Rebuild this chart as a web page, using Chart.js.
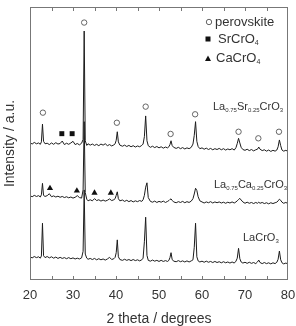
<!DOCTYPE html>
<html>
<head>
<meta charset="utf-8">
<script src="https://cdn.jsdelivr.net/npm/chart.js@4.4.0/dist/chart.umd.min.js"></script>
<style>
  html, body { margin: 0; padding: 0; background: #fff; }
  #wrap { width: 296px; height: 326px; }
</style>
</head>
<body>
<div id="wrap"><canvas id="xrd"></canvas></div>
<script>
// 2 theta grid shared by the three patterns
const twoTheta = [
  20, 20.5, 21, 21.5, 22, 22.4, 22.65, 22.9, 23.15, 23.5,
  24, 24.5, 25, 25.5, 26, 26.5, 27, 27.5, 28, 28.5,
  29, 29.5, 30, 30.5, 31, 31.5, 32, 32.35, 32.6, 32.85,
  33.2, 33.5, 34, 34.5, 35, 35.5, 36, 36.5, 37, 37.5,
  38, 38.5, 39, 39.5, 39.8, 40.05, 40.3, 40.55, 40.9, 41.5,
  42, 42.5, 43, 43.5, 44, 44.5, 45, 45.5, 46, 46.3,
  46.6, 46.9, 47.2, 47.5, 48, 48.5, 49, 49.5, 50, 50.5,
  51, 51.5, 52, 52.3, 52.55, 52.8, 53.05, 53.4, 54, 54.5,
  55, 55.5, 56, 56.5, 57, 57.5, 57.9, 58.2, 58.5, 58.8,
  59.1, 59.5, 60, 60.5, 61, 61.5, 62, 62.5, 63, 63.5,
  64, 64.5, 65, 65.5, 66, 66.5, 67, 67.5, 67.9, 68.2,
  68.5, 68.8, 69.1, 69.5, 70, 70.5, 71, 71.5, 72, 72.5,
  72.9, 73.2, 73.5, 74, 74.5, 75, 75.5, 76, 76.5, 77,
  77.4, 77.7, 78.0, 78.3, 78.6, 79, 79.5, 80
];

// La0.75Sr0.25CrO3 (offset trace, top)
const lsc = [
  50.3, 49.8, 50.4, 49.9, 50.2, 49.7, 50.6, 57.1, 50.8, 49.9,
  50.1, 49.6, 50.2, 49.7, 50.3, 49.8, 50.0, 50.9, 49.6, 50.1,
  49.7, 50.2, 50.8, 49.6, 50.0, 49.5, 50.1, 51.5, 91.2, 51.0,
  49.3, 49.9, 49.4, 49.8, 49.3, 49.7, 49.2, 49.8, 49.4, 49.9,
  49.2, 49.6, 49.1, 49.5, 49.9, 51.2, 54.3, 50.6, 49.4, 49.0,
  49.4, 48.9, 49.3, 48.8, 49.2, 48.7, 49.1, 48.8, 49.3, 49.8,
  52.5, 60.1, 51.0, 49.2, 48.6, 49.0, 48.5, 48.9, 48.4, 48.8,
  48.3, 48.7, 48.4, 48.8, 49.6, 51.0, 49.3, 48.6, 48.2, 48.6,
  48.1, 48.5, 48.0, 48.4, 48.1, 48.6, 49.8, 53.0, 58.0, 50.8,
  48.9, 48.1, 48.4, 47.9, 48.3, 47.8, 48.2, 47.7, 48.1, 47.8,
  48.2, 47.7, 48.1, 47.6, 48.0, 47.7, 48.1, 47.6, 48.5, 50.0,
  51.9, 50.2, 48.6, 47.8, 47.5, 47.9, 47.4, 47.8, 47.3, 47.7,
  47.9, 48.7, 47.9, 47.4, 47.7, 47.2, 47.6, 47.1, 47.5, 47.2,
  47.6, 48.8, 51.3, 49.2, 47.6, 47.2, 47.5, 47.1
];

// La0.75Ca0.25CrO3 (middle)
const lcc = [
  30.9, 30.5, 31.0, 30.6, 30.9, 30.4, 31.2, 35.4, 31.0, 30.6,
  30.9, 31.6, 30.5, 30.8, 30.4, 30.7, 30.3, 30.6, 30.2, 30.5,
  30.1, 30.4, 30.0, 30.3, 30.9, 30.2, 30.0, 33.0, 58.0, 32.0,
  29.6, 29.0, 29.4, 29.0, 29.8, 29.1, 29.4, 28.9, 29.3, 28.9,
  29.2, 29.7, 29.1, 29.4, 29.8, 31.0, 32.3, 29.8, 29.0, 29.3,
  28.8, 29.2, 28.7, 29.1, 28.6, 29.0, 28.7, 29.1, 28.8, 29.4,
  31.0, 34.0, 35.6, 30.2, 28.8, 28.5, 28.9, 28.4, 28.8, 28.5,
  28.9, 28.4, 28.8, 29.1, 29.5, 29.7, 29.2, 28.6, 28.3, 28.7,
  28.4, 28.8, 28.3, 28.7, 28.4, 28.9, 29.8, 31.5, 33.6, 32.8,
  30.5, 29.0, 28.6, 28.2, 28.6, 28.3, 28.7, 28.2, 28.6, 28.3,
  28.6, 28.2, 28.5, 28.1, 28.5, 28.2, 28.6, 28.2, 28.6, 29.0,
  29.5, 29.9, 29.3, 28.6, 28.1, 28.5, 28.1, 28.4, 28.0, 28.4,
  28.1, 28.5, 28.1, 28.4, 28.0, 28.3, 27.9, 28.3, 28.0, 28.3,
  28.5, 29.0, 29.6, 29.2, 28.5, 28.1, 28.4, 28.0
];

// LaCrO3 (bottom)
const lc = [
  8.5, 8.1, 8.6, 8.2, 8.5, 8.0, 8.8, 20.8, 8.9, 8.2,
  8.6, 8.1, 8.5, 8.0, 8.4, 7.9, 8.3, 7.9, 8.2, 7.8,
  8.2, 7.8, 8.1, 7.7, 8.0, 7.7, 8.1, 10.5, 33.0, 9.5,
  8.0, 7.6, 7.9, 7.5, 7.9, 7.4, 7.8, 7.4, 7.7, 7.3,
  7.7, 8.3, 7.5, 7.8, 8.3, 10.0, 14.7, 8.5, 7.5, 7.2,
  7.6, 7.2, 7.5, 7.1, 7.5, 7.1, 7.4, 7.0, 7.4, 8.0,
  14.0, 23.0, 9.0, 7.2, 6.9, 7.3, 6.9, 7.2, 6.8, 7.2,
  6.8, 7.1, 6.8, 7.2, 8.2, 10.0, 7.6, 6.9, 6.7, 7.1,
  6.7, 7.0, 6.6, 7.0, 6.6, 7.0, 7.4, 12.0, 20.8, 8.5,
  7.0, 6.6, 6.9, 6.5, 6.9, 6.5, 6.8, 6.4, 6.8, 6.4,
  6.7, 6.3, 6.7, 6.3, 6.6, 6.2, 6.6, 6.2, 6.9, 8.0,
  11.6, 7.8, 6.6, 6.2, 6.5, 6.1, 6.5, 6.1, 6.4, 6.0,
  6.6, 7.3, 6.4, 6.0, 6.4, 6.0, 6.3, 5.9, 6.3, 6.0,
  6.5, 7.6, 10.6, 7.4, 6.3, 5.9, 6.2, 5.9
];

// phase markers
const perovX = [23.0, 32.6, 40.2, 46.9, 52.7, 58.4, 68.5, 73.1, 77.9];
const perovY = [61.3, 94.3, 57.6, 63.5, 53.5, 60.7, 54.3, 51.9, 54.3];
const srX = [27.4, 29.8];
const srY = [53.6, 53.6];
const caX = [24.65, 30.9, 35.0, 38.8];
const caY = [33.6, 32.7, 31.9, 31.9];

const xTicks = [20, 30, 40, 50, 60, 70, 80];

const pts = (xs, ys) => xs.map((x, i) => ({ x: x, y: ys[i] }));

const traceStyle = {
  showLine: true, pointRadius: 0, borderWidth: 1,
  borderColor: '#1c1c1c', tension: 0, fill: false
};

// subscript text helper: parts = [[text, isSub], ...]
function drawChem(ctx, parts, x, y, size) {
  let cx = x;
  parts.forEach(p => {
    const fs = p[1] ? Math.round(size * 0.55) : size;
    ctx.font = fs + 'px "Liberation Sans", Arial, sans-serif';
    ctx.textBaseline = 'middle';
    ctx.textAlign = 'left';
    ctx.fillText(p[0], cx, p[1] ? y + size * 0.32 : y);
    cx += ctx.measureText(p[0]).width;
  });
}

const decor = {
  id: 'decor',
  afterDraw(chart) {
    const ctx = chart.ctx;
    const a = chart.chartArea;
    const xs = chart.scales.x;
    ctx.save();
    // frame
    ctx.strokeStyle = '#777';
    ctx.lineWidth = 1;
    ctx.strokeRect(a.left + 0.5, a.top + 0.5, a.right - a.left - 1, a.bottom - a.top - 1);
    // inward ticks every 5 degrees, top and bottom
    ctx.beginPath();
    for (let v = 25; v < 80; v += 5) {
      const px = Math.round(xs.getPixelForValue(v)) + 0.5;
      ctx.moveTo(px, a.bottom);
      ctx.lineTo(px, a.bottom - 4);
      ctx.moveTo(px, a.top);
      ctx.lineTo(px, a.top + 4);
    }
    ctx.stroke();

    // legend
    ctx.strokeStyle = '#555';
    ctx.lineWidth = 0.9;
    ctx.beginPath();
    ctx.arc(209, 22, 2.7, 0, Math.PI * 2);
    ctx.stroke();
    ctx.fillStyle = '#111';
    ctx.fillRect(205.5, 36.5, 5, 5);
    ctx.beginPath();
    ctx.moveTo(208, 55.5);
    ctx.lineTo(211, 61);
    ctx.lineTo(205, 61);
    ctx.closePath();
    ctx.fill();
    ctx.fillStyle = '#333';
    drawChem(ctx, [['perovskite', 0]], 215, 22, 13);
    drawChem(ctx, [['SrCrO', 0], ['4', 1]], 218, 39, 13);
    drawChem(ctx, [['CaCrO', 0], ['4', 1]], 216, 58, 13);

    // sample labels
    drawChem(ctx, [['La', 0], ['0.75', 1], ['Sr', 0], ['0.25', 1], ['CrO', 0], ['3', 1]], 213, 107, 11);
    drawChem(ctx, [['La', 0], ['0.75', 1], ['Ca', 0], ['0.25', 1], ['CrO', 0], ['3', 1]], 214, 185, 11);
    drawChem(ctx, [['LaCrO', 0], ['3', 1]], 243, 238, 11);
    ctx.restore();
  }
};

new Chart(document.getElementById('xrd'), {
  type: 'scatter',
  data: {
    datasets: [
      Object.assign({ label: 'La0.75Sr0.25CrO3', data: pts(twoTheta, lsc) }, traceStyle),
      Object.assign({ label: 'La0.75Ca0.25CrO3', data: pts(twoTheta, lcc) }, traceStyle),
      Object.assign({ label: 'LaCrO3', data: pts(twoTheta, lc) }, traceStyle),
      {
        label: 'perovskite', data: pts(perovX, perovY),
        pointStyle: 'circle', pointRadius: 2.7, borderWidth: 0.9,
        borderColor: '#555', backgroundColor: '#fff'
      },
      {
        label: 'SrCrO4', data: pts(srX, srY),
        pointStyle: 'rect', pointRadius: 3.5, borderWidth: 0,
        backgroundColor: '#111'
      },
      {
        label: 'CaCrO4', data: pts(caX, caY),
        pointStyle: 'triangle', pointRadius: 3.6, borderWidth: 0,
        backgroundColor: '#111'
      }
    ]
  },
  options: {
    responsive: true,
    maintainAspectRatio: false,
    animation: false,
    devicePixelRatio: 1,
    layout: { padding: { top: 7, right: 8, left: 0, bottom: 0 } },
    plugins: { legend: { display: false }, tooltip: { enabled: false } },
    scales: {
      x: {
        type: 'linear', min: 20, max: 80,
        afterBuildTicks: s => { s.ticks = xTicks.map(v => ({ value: v })); },
        afterFit: s => { s.height = 46; s.paddingLeft = 0; s.paddingRight = 0; },
        grid: { display: false, drawTicks: false },
        border: { display: false },
        ticks: { color: '#333', padding: 8, font: { size: 13, family: '"Liberation Sans", Arial, sans-serif' } },
        title: {
          display: true, text: '2 theta / degrees', color: '#333',
          padding: 0, font: { size: 14, lineHeight: 1, family: '"Liberation Sans", Arial, sans-serif' }
        }
      },
      y: {
        min: 0, max: 100,
        afterFit: s => { s.width = 30; s.paddingTop = 0; s.paddingBottom = 0; },
        grid: { display: false, drawTicks: false },
        border: { display: false },
        ticks: { display: false },
        title: {
          display: true, text: 'Intensity / a.u.', color: '#333',
          padding: { top: 2, bottom: 0 }, font: { size: 14, family: '"Liberation Sans", Arial, sans-serif' }
        }
      }
    }
  },
  plugins: [decor]
});
</script>
</body>
</html>
